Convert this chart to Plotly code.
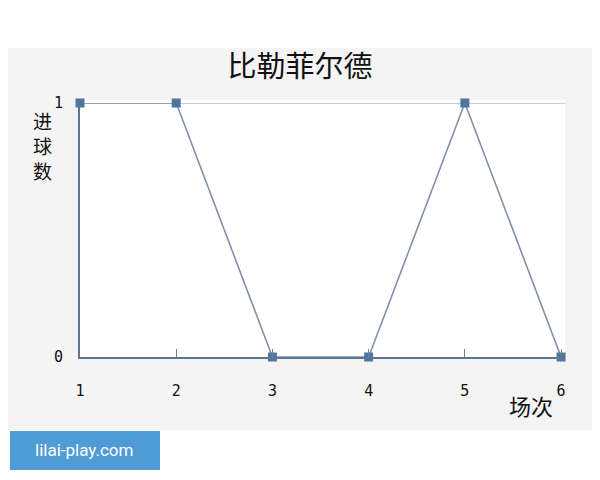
import plotly.graph_objects as go

# match data
matches = [1, 2, 3, 4, 5, 6]
goals = [1, 1, 0, 0, 1, 0]
x_ticks = ["1", "2", "3", "4", "5", "6"]
y_ticks = ["0", "1"]

cjk = "Noto Sans CJK SC"

# page has an 8px body margin, so the figure is 592x472 and drawn 8px in
W, H = 592, 472
L, T, PW, PH = 72, 95, 483, 254  # plot area in figure px


def px(X):  # reference page px -> paper x
    return (X - 8 - L) / PW


def py(Y):  # reference page px -> paper y
    return (T + PH - (Y - 8)) / PH


fig = go.Figure()

fig.add_trace(go.Scatter(
    x=matches, y=goals, mode="lines+markers",
    line=dict(color="#7f93a8", width=1.6),
    marker=dict(symbol="square", size=9, color="#4f74a0"),
    cliponaxis=False, hoverinfo="skip",
))

# grey panel and white plot area
fig.add_shape(type="rect", xref="paper", yref="paper",
              x0=px(0), x1=px(600), y0=py(430), y1=py(48),
              fillcolor="#f4f4f4", line_width=0, layer="below")
fig.add_shape(type="rect", xref="paper", yref="paper",
              x0=px(80), x1=px(565), y0=py(357), y1=py(100),
              fillcolor="white", line_width=0, layer="below")
# top line at y = 1
fig.add_shape(type="line", xref="paper", yref="y",
              x0=0, x1=px(565), y0=1, y1=1,
              line=dict(color="#a3c1dc", width=1.5), layer="below")

# watermark box
fig.add_shape(type="rect", xref="paper", yref="paper",
              x0=px(10), x1=px(160), y0=py(470), y1=py(431),
              fillcolor="#4f9bd5", line_width=0, layer="above")
fig.add_annotation(xref="paper", yref="paper", x=px(84), y=py(450),
                   xanchor="center", yanchor="middle",
                   text="lilai-play.com", showarrow=False,
                   font=dict(family="Roboto", size=17, color="white"))

# y axis label, one char per annotation
for ch, yc in zip(["进", "球", "数"], [120, 145, 170]):
    fig.add_annotation(xref="paper", yref="paper", x=px(42), y=py(yc),
                       xanchor="center", yanchor="middle",
                       text=ch, showarrow=False,
                       font=dict(family=cjk, size=19, color="#111111"))

# x axis label
fig.add_annotation(xref="paper", yref="paper", x=px(531), y=py(405),
                   xanchor="center", yanchor="middle",
                   text="场次", showarrow=False,
                   font=dict(family=cjk, size=22, color="#111111"))

fig.update_layout(
    width=W, height=H,
    margin=dict(l=L, r=W - L - PW, t=T, b=H - T - PH),
    paper_bgcolor="white", plot_bgcolor="white",
    showlegend=False,
    title=dict(text="比勒菲尔德", x=(300 - 8) / W, xanchor="center",
               y=1 - (67 - 8) / H, yanchor="middle",
               font=dict(family=cjk, size=29, color="#111111")),
    xaxis=dict(range=[1, 6.02], tickvals=matches, ticktext=x_ticks,
               showgrid=False, zeroline=False,
               showline=True, linecolor="#5c7692", linewidth=2,
               ticks="inside", ticklen=8, tickcolor="#6f7f90", tickwidth=1,
               ticklabelstandoff=19,
               tickfont=dict(family="DejaVu Sans Mono", size=15, color="#111111")),
    yaxis=dict(range=[0, 1], tickvals=[0, 1], ticktext=y_ticks,
               showgrid=False, zeroline=False,
               showline=True, linecolor="#5c7692", linewidth=2,
               ticks="", ticklabelstandoff=12,
               tickfont=dict(family="DejaVu Sans Mono", size=15, color="#111111")),
)

fig.write_html("out.html")
